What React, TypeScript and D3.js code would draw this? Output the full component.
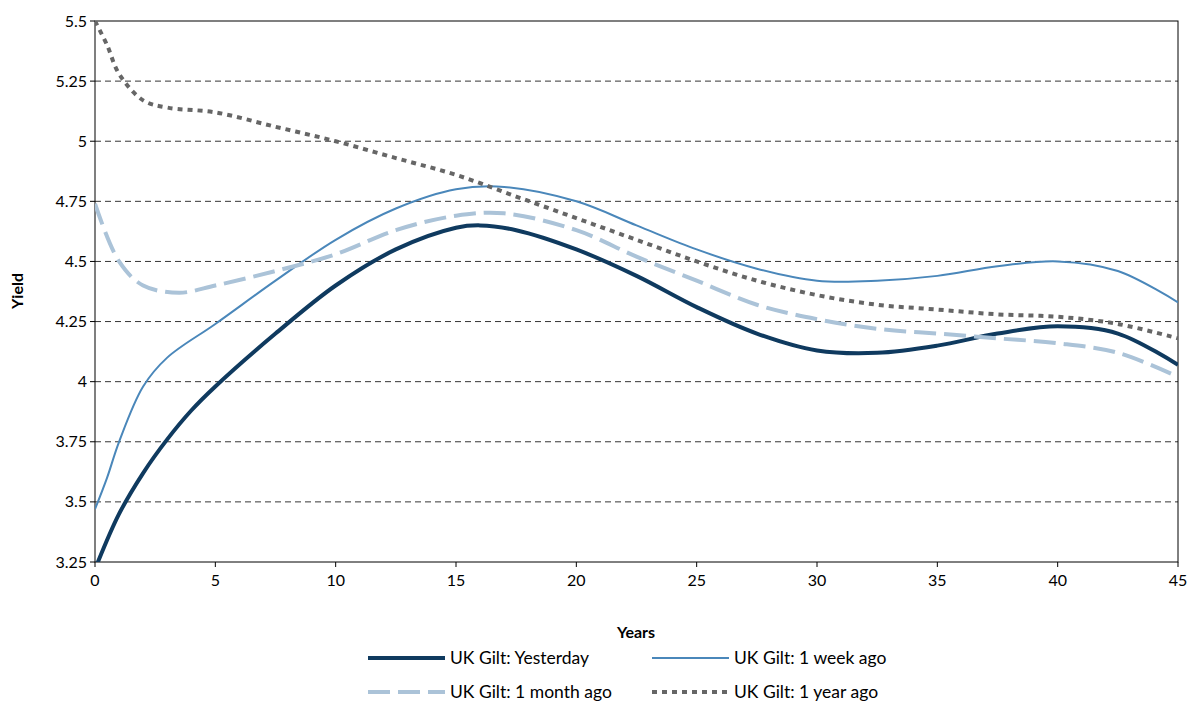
import * as d3 from "d3";

const yesterdayX = [0, 1, 2, 3, 4, 5, 7.5, 10, 12.5, 15, 16, 17.5, 20, 22.5, 25, 27.5, 30, 32.5, 35, 37.5, 40, 42.5, 45];
const yesterdayY = [3.22, 3.45, 3.62, 3.76, 3.88, 3.98, 4.2, 4.4, 4.55, 4.64, 4.65, 4.63, 4.55, 4.44, 4.31, 4.2, 4.13, 4.12, 4.15, 4.2, 4.23, 4.2, 4.07];
const weekX = [0, 0.5, 1, 2, 3, 5, 7.5, 10, 12.5, 15, 17, 20, 22.5, 25, 27.5, 30, 32.5, 35, 37.5, 40, 42.5, 45];
const weekY = [3.47, 3.6, 3.75, 3.98, 4.1, 4.24, 4.42, 4.59, 4.72, 4.8, 4.81, 4.75, 4.65, 4.55, 4.47, 4.42, 4.42, 4.44, 4.48, 4.5, 4.46, 4.33];
const monthX = [0, 1, 2, 3.5, 5, 7.5, 10, 12.5, 15, 17, 20, 22.5, 25, 27.5, 30, 32.5, 35, 37.5, 40, 42.5, 45];
const monthY = [4.74, 4.5, 4.4, 4.37, 4.4, 4.46, 4.53, 4.63, 4.69, 4.7, 4.63, 4.52, 4.42, 4.32, 4.26, 4.22, 4.2, 4.18, 4.16, 4.12, 4.02];
const yearX = [0, 0.5, 1, 2, 3, 5, 7.5, 10, 12.5, 15, 17.5, 20, 22.5, 25, 27.5, 30, 32.5, 35, 37.5, 40, 42.5, 45];
const yearY = [5.5, 5.4, 5.28, 5.17, 5.14, 5.12, 5.06, 5.0, 4.93, 4.86, 4.77, 4.68, 4.59, 4.5, 4.42, 4.36, 4.32, 4.3, 4.28, 4.27, 4.24, 4.18];
const yTicks = [3.25, 3.5, 3.75, 4, 4.25, 4.5, 4.75, 5, 5.25, 5.5];
const yTickLabels = ["3.25", "3.5", "3.75", "4", "4.25", "4.5", "4.75", "5", "5.25", "5.5"];
const xTicks = [0, 5, 10, 15, 20, 25, 30, 35, 40, 45];

const series = [
  { name: "UK Gilt: Yesterday", xs: yesterdayX, ys: yesterdayY, color: "#0f3a5f", width: 4, dash: "" },
  { name: "UK Gilt: 1 week ago", xs: weekX, ys: weekY, color: "#4a87ba", width: 2, dash: "" },
  { name: "UK Gilt: 1 month ago", xs: monthX, ys: monthY, color: "#abc3d8", width: 4, dash: "22,8" },
  { name: "UK Gilt: 1 year ago", xs: yearX, ys: yearY, color: "#666666", width: 4, dash: "5,5" },
];

export default function App() {
  const W = 1188, H = 705;
  const L = 95, R = 1178, T = 21, B = 562;
  const x = d3.scaleLinear().domain([0, 45]).range([L, R]);
  const y = d3.scaleLinear().domain([3.25, 5.5]).range([B, T]);
  const line = d3.line<[number, number]>().x(d => x(d[0])).y(d => y(d[1])).curve(d3.curveCatmullRom);
  const legendPos = [[368, 658], [652, 658], [368, 692], [652, 692]];
  return (
    <svg width={W} height={H} style={{ position: "absolute", left: 0, top: 0, fontFamily: "Lato, sans-serif" }}>
      <rect width={W} height={H} fill="#fff" />
      <defs>
        <clipPath id="c"><rect x={L} y={T} width={R - L} height={B - T} /></clipPath>
      </defs>
      {yTicks.slice(1, -1).map(t => (
        <line key={t} x1={L} x2={R} y1={y(t)} y2={y(t)} stroke="#000" strokeDasharray="6,4" strokeWidth={0.8} />
      ))}
      <rect x={L} y={T} width={R - L} height={B - T} fill="none" stroke="#000" strokeWidth={1} />
      {yTicks.map((t, i) => (
        <g key={t}>
          <line x1={L - 5} x2={L} y1={y(t)} y2={y(t)} stroke="#000" />
          <text x={L - 8} y={y(t)} dy="0.35em" textAnchor="end" fontSize={16}>{yTickLabels[i]}</text>
        </g>
      ))}
      {xTicks.map(t => (
        <g key={t}>
          <line x1={x(t)} x2={x(t)} y1={B} y2={B + 5} stroke="#000" />
          <text x={x(t)} y={B + 24} textAnchor="middle" fontSize={16}>{t}</text>
        </g>
      ))}
      <text x={636} y={638} textAnchor="middle" fontSize={16} fontWeight="bold">Years</text>
      <text transform="translate(23,291) rotate(-90)" textAnchor="middle" fontSize={16} fontWeight="bold">Yield</text>
      <g clipPath="url(#c)">
        {series.map(s => (
          <path key={s.name} d={line(s.xs.map((v, i) => [v, s.ys[i]] as [number, number])) ?? ""} fill="none"
            stroke={s.color} strokeWidth={s.width} strokeDasharray={s.dash} />
        ))}
      </g>
      {series.map((s, i) => (
        <g key={s.name}>
          <line x1={legendPos[i][0]} x2={legendPos[i][0] + 77} y1={legendPos[i][1]} y2={legendPos[i][1]}
            stroke={s.color} strokeWidth={s.width} strokeDasharray={s.dash} />
          <text x={legendPos[i][0] + 82} y={legendPos[i][1]} dy="0.35em" fontSize={17.5}>{s.name}</text>
        </g>
      ))}
    </svg>
  );
}
